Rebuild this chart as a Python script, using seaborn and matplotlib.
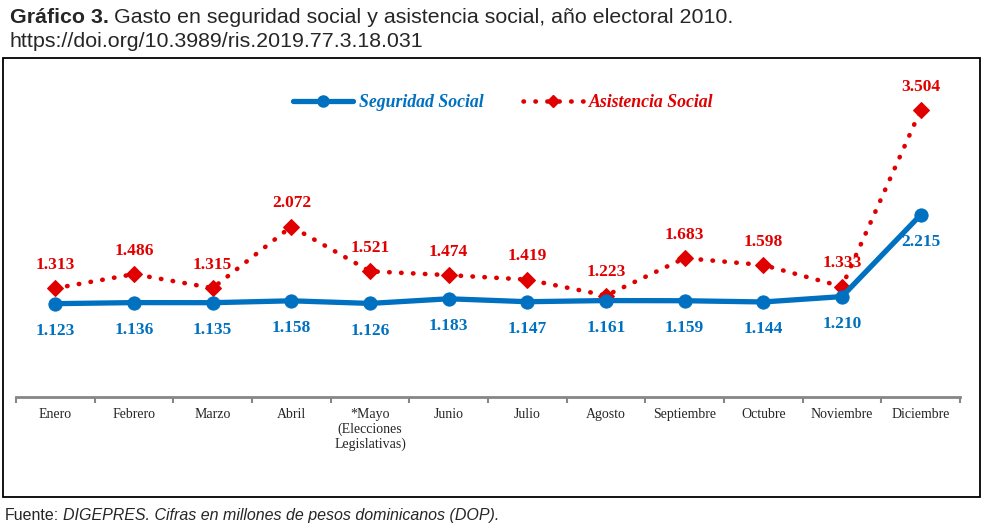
import numpy as np
import pandas as pd
import seaborn as sns
import matplotlib.pyplot as plt
from matplotlib.lines import Line2D
from matplotlib.patches import Rectangle
from matplotlib.ticker import FixedLocator

meses = ['Enero', 'Febrero', 'Marzo', 'Abril', '*Mayo\n(Elecciones\nLegislativas)', 'Junio',
         'Julio', 'Agosto', 'Septiembre', 'Octubre', 'Noviembre', 'Diciembre']
seguridad = [1.123, 1.136, 1.135, 1.158, 1.126, 1.183, 1.147, 1.161, 1.159, 1.144, 1.210, 2.215]
asistencia = [1.313, 1.486, 1.315, 2.072, 1.521, 1.474, 1.419, 1.223, 1.683, 1.598, 1.333, 3.504]

azul = '#0070C0'
rojo = '#E00000'

sns.set_style('white')
plt.rcParams['font.family'] = ['Liberation Serif', 'DejaVu Serif']

df = pd.DataFrame({'pos': np.arange(len(meses)), 'seg': seguridad, 'asi': asistencia})

W, H = 987, 529
fig = plt.figure(figsize=(W / 100, H / 100), dpi=100)
ax = fig.add_axes([16 / W, (H - 397) / H, (960 - 16) / W, (397 - 73) / H])

# border box around the chart
fig.patches.append(Rectangle((3 / W, (H - 497) / H), (980 - 3) / W, (497 - 58) / H,
                             transform=fig.transFigure, fill=False, lw=1.3, ec='black'))

puntos = (0, (0.1, 2.5))
sns.lineplot(data=df, x='pos', y='asi', ax=ax, color=rojo, lw=3.3, marker='D', markersize=8,
             markeredgecolor=rojo, linestyle=puntos)
sns.lineplot(data=df, x='pos', y='seg', ax=ax, color=azul, lw=3.8, marker='o', markersize=9.5,
             markeredgecolor=azul)
ax.lines[0].set_dash_capstyle('round')

for i, (s, a) in enumerate(zip(seguridad, asistencia)):
    ax.annotate(f'{a:.3f}', (i, a), xytext=(0, 11), textcoords='offset points', ha='center',
                va='bottom', color=rojo, fontsize=12.5, fontweight='bold')
    ax.annotate(f'{s:.3f}', (i, s), xytext=(0, -14), textcoords='offset points', ha='center',
                va='top', color=azul, fontsize=12.5, fontweight='bold')

ax.set_xlim(-0.5, len(meses) - 0.5)
ax.set_ylim(-0.025, 3.96)
ax.set_xlabel('')
ax.set_ylabel('')
ax.set_yticks([])
ax.set_xticks(df['pos'])
ax.set_xticklabels(meses, fontsize=10, linespacing=1.12)
ax.xaxis.set_minor_locator(FixedLocator(np.arange(-0.5, len(meses), 1)))
ax.tick_params(axis='x', which='major', length=0, pad=8)
ax.tick_params(axis='x', which='minor', length=4, width=1.5, color='#868686', bottom=True)
for side in ['top', 'left', 'right']:
    ax.spines[side].set_visible(False)
ax.spines['bottom'].set_color('#868686')
ax.spines['bottom'].set_linewidth(2)

h1 = Line2D([], [], color=azul, lw=3.8, marker='o', markersize=8, markevery=[1])
h2 = Line2D([], [], color=rojo, lw=3.3, marker='D', markersize=6, linestyle=puntos,
            dash_capstyle='round', markevery=[1])
leg = ax.legend([h1, h2], ['Seguridad Social', 'Asistencia Social'], ncol=2, frameon=False,
                loc='center', bbox_to_anchor=(0.516, 0.909), handlelength=3.4, columnspacing=2.25,
                handletextpad=0.3, prop={'family': 'Liberation Serif', 'weight': 'bold',
                                         'style': 'italic', 'size': 12.8})
for t, c in zip(leg.get_texts(), [azul, rojo]):
    t.set_color(c)

# title and footer, with mixed weights / styles
r = fig.canvas.get_renderer()
t1 = fig.text(10 / W, (H - 23) / H, 'Gráfico 3.', fontsize=15.4, fontweight='bold',
              family='Liberation Sans', va='baseline')
bb = t1.get_window_extent(r)
fig.text(bb.x1 / W + 5 / W, (H - 23) / H,
         'Gasto en seguridad social y asistencia social, año electoral 2010.',
         fontsize=15.4, family='Liberation Sans', va='baseline')
fig.text(10 / W, (H - 47) / H, 'https://doi.org/10.3989/ris.2019.77.3.18.031', fontsize=15.4,
         family='Liberation Sans', va='baseline')
f1 = fig.text(5 / W, (H - 520) / H, 'Fuente:', fontsize=11.5, family='Liberation Sans',
              va='baseline')
bb = f1.get_window_extent(r)
fig.text(bb.x1 / W + 4 / W, (H - 520) / H,
         'DIGEPRES. Cifras en millones de pesos dominicanos (DOP).', fontsize=11.5,
         family='Liberation Sans', style='italic', va='baseline')

fig.savefig('out.png', dpi=100)
